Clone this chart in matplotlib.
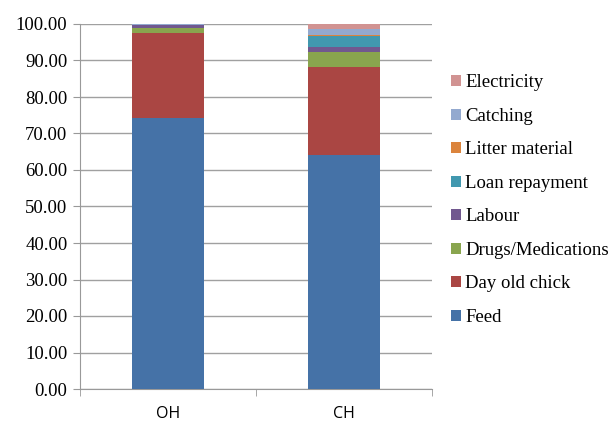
import matplotlib.pyplot as plt
import numpy as np

plt.rcParams['font.family'] = ['Liberation Serif', 'DejaVu Serif']

categories = ['OH', 'CH']
series = ['Feed', 'Day old chick', 'Drugs/Medications', 'Labour',
          'Loan repayment', 'Litter material', 'Catching', 'Electricity']
values = {
    'Feed': [74.3, 64.1],
    'Day old chick': [23.2, 24.0],
    'Drugs/Medications': [1.5, 4.1],
    'Labour': [0.6, 1.5],
    'Loan repayment': [0.2, 3.1],
    'Litter material': [0.0, 0.1],
    'Catching': [0.1, 1.7],
    'Electricity': [0.1, 1.4],
}
colors = ['#4572A7', '#AA4643', '#89A54E', '#71588F',
          '#4198AF', '#DB843D', '#93A9CF', '#D19392']

fig = plt.figure(figsize=(6.16, 4.23), dpi=100)
ax = fig.add_axes([80 / 616, 1 - 389 / 423, 352 / 616, 365 / 423])

x = np.arange(len(categories))
bottom = np.zeros(len(categories))
for name, c in zip(series, colors):
    v = np.array(values[name])
    ax.bar(x, v, 0.41, bottom=bottom, color=c, label=name, zorder=3)
    bottom += v

ax.set_xlim(-0.5, 1.5)
ax.set_ylim(0, 100)
ax.set_yticks(np.arange(0, 101, 10))
ax.set_yticklabels([f'{t:.2f}' for t in np.arange(0, 101, 10)])
ax.set_xticks(x)
ax.set_xticklabels(categories, family=['Open Sans', 'DejaVu Sans'])
ax.set_xticks([-0.5, 0.5, 1.5], minor=True)
ax.yaxis.grid(True, color='#A0A0A0', linewidth=1, zorder=0)
for s in ['top', 'right']:
    ax.spines[s].set_visible(False)
ax.spines['left'].set_color('#999999')
ax.spines['bottom'].set_color('#999999')
ax.tick_params(axis='y', length=5, color='#999999', labelsize=13.5, pad=4)
ax.tick_params(axis='x', which='major', length=0, labelsize=11.5, pad=12)
ax.tick_params(axis='x', which='minor', length=5, color='#999999')

h, l = ax.get_legend_handles_labels()
fig.legend(h[::-1], l[::-1], loc='center left', bbox_to_anchor=(0.705, 0.527),
           frameon=False, fontsize=13.5, handlelength=0.5, handleheight=0.5,
           handletextpad=0.25, labelspacing=0.88)

fig.savefig('out.png', dpi=100)
